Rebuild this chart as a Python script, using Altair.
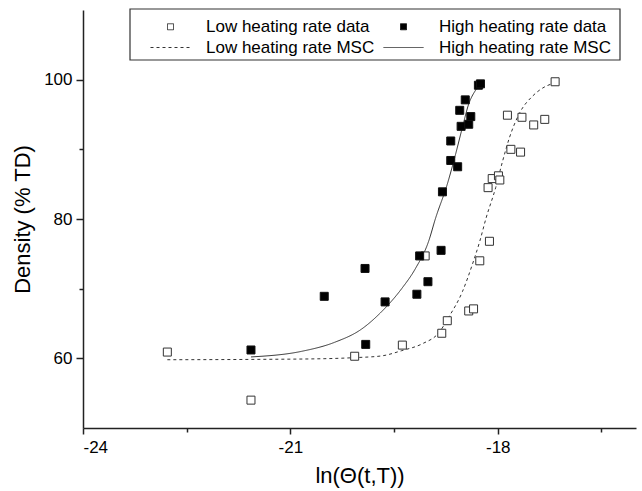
import altair as alt
import pandas as pd

series_names = ["Low heating rate data", "High heating rate data",
                "Low heating rate MSC", "High heating rate MSC"]

low_x = [-22.78, -21.57, -20.07, -19.38, -18.81, -18.73, -18.42, -18.35, -19.05, -18.26,
         -18.12, -18.14, -18.08, -17.99, -17.97, -17.81, -17.67, -17.86, -17.65, -17.48,
         -17.32, -17.17]
low_y = [60.9, 54.0, 60.3, 61.9, 63.6, 65.4, 66.8, 67.1, 74.7, 74.0,
         76.8, 84.5, 85.8, 86.2, 85.6, 90.0, 89.6, 94.9, 94.6, 93.5,
         94.3, 99.7]

high_x = [-21.57, -20.51, -19.92, -19.91, -19.63, -19.17, -19.01, -19.13, -18.82, -18.80,
          -18.68, -18.58, -18.68, -18.53, -18.42, -18.39, -18.55, -18.47, -18.28, -18.25]
high_y = [61.2, 68.9, 72.9, 62.0, 68.1, 69.2, 71.0, 74.7, 75.5, 83.9,
          88.4, 87.5, 91.2, 93.3, 93.6, 94.7, 95.6, 97.1, 99.2, 99.4]

low_msc_x = [-22.78, -21.5, -20.5, -20.07, -19.68, -19.39, -19.09, -18.85, -18.71, -18.51,
             -18.37, -18.26, -18.17, -18.03, -17.93, -17.83, -17.69, -17.49, -17.35, -17.19]
low_msc_y = [59.8, 59.85, 59.95, 60.1, 60.35, 61.1, 62.1, 63.7, 65.9, 69.6,
             73.4, 76.8, 80.1, 84.5, 88.3, 91.7, 95.1, 97.7, 98.8, 99.5]

high_msc_x = [-21.57, -20.84, -20.36, -19.97, -19.68, -19.39, -19.19, -19.0, -18.90, -18.73,
              -18.61, -18.51, -18.42, -18.32, -18.27]
high_msc_y = [60.2, 61.0, 62.3, 64.2, 66.7, 70.0, 72.9, 76.8, 80.1, 85.0,
              89.3, 93.2, 96.5, 98.5, 99.2]

x_ticks = [-24, -22.5, -21, -19.5, -18, -16.5]
y_ticks = [60, 70, 80, 90, 100]

pts = pd.DataFrame({
    "x": low_x + high_x,
    "y": low_y + high_y,
    "series": [series_names[0]] * len(low_x) + [series_names[1]] * len(high_x),
})
curves = pd.DataFrame({
    "x": low_msc_x + high_msc_x,
    "y": low_msc_y + high_msc_y,
    "series": [series_names[2]] * len(low_msc_x) + [series_names[3]] * len(high_msc_x),
})

FONT = "Liberation Sans"
sq = "M-0.6,-0.6H0.6V0.6H-0.6Z"
ln = "M-4,0H4"

shape_scale = alt.Scale(domain=series_names, range=[sq, sq, ln, ln])
fill_scale = alt.Scale(domain=series_names, range=["white", "black", "transparent", "transparent"])
stroke_scale = alt.Scale(domain=series_names, range=["#333", "#111", "#333", "#333"])
dash_scale = alt.Scale(domain=series_names, range=[[1, 0], [1, 0], [3, 3], [1, 0]])

legend = alt.Legend(
    title=None, orient="none", legendX=79, legendY=8, columns=2, direction="horizontal",
    symbolSize=100, symbolStrokeWidth=1,
    symbolOpacity=1, labelFont=FONT, labelFontSize=17, labelColor="black", labelLimit=400,
    padding=0, rowPadding=3, columnPadding=6, labelOffset=27,
)

x_enc = alt.X(
    "x:Q",
    scale=alt.Scale(domain=[-24, -16], nice=False, zero=False),
    axis=alt.Axis(
        values=x_ticks, title="ln(Θ(t,T))",
        labelExpr="datum.value % 3 == 0 ? '' + datum.value : ''",
        tickSize={"condition": {"test": "datum.value % 3 == 0", "value": 6}, "value": 4},
        labelPadding=5, titlePadding=10,
    ),
)
y_enc = alt.Y(
    "y:Q",
    scale=alt.Scale(domain=[50, 110], nice=False, zero=False),
    axis=alt.Axis(
        values=y_ticks, title="Density (% TD)",
        labelExpr="datum.value % 20 == 0 ? '' + datum.value : ''",
        tickSize={"condition": {"test": "datum.value % 20 == 0", "value": 7}, "value": 4},
        labelPadding=4, titlePadding=9,
    ),
)

# legend frame (decoration only)
frame = alt.Chart(pd.DataFrame({"k": [0]})).mark_rect(
    fill="white", stroke="#333", strokeWidth=1.2
).encode(x=alt.value(47), x2=alt.value(537), y=alt.value(-1), y2=alt.value(50))

lines = alt.Chart(curves).mark_line(strokeWidth=1, interpolate="monotone").encode(
    x=x_enc, y=y_enc,
    stroke=alt.Stroke("series:N", scale=stroke_scale, legend=legend),
    strokeDash=alt.StrokeDash("series:N", scale=dash_scale, legend=legend),
)

points = alt.Chart(pts).mark_point(strokeWidth=1, opacity=1, size=178).encode(
    x=x_enc, y=y_enc,
    shape=alt.Shape("series:N", scale=shape_scale, legend=legend),
    fill=alt.Fill("series:N", scale=fill_scale, legend=legend),
    stroke=alt.Stroke("series:N", scale=stroke_scale, legend=legend),
)

chart = alt.layer(frame, lines, points).properties(
    width=553, height=418,
    padding={"left": 83, "top": 10, "right": 6, "bottom": 63},
    autosize=alt.AutoSizeParams(type="none"),
    background="white",
).configure_view(strokeWidth=0).configure_axis(
    grid=False, domainColor="#222", domainWidth=1.5, tickColor="#222", tickWidth=1.5,
    labelFont=FONT, labelFontSize=17, labelColor="black",
    titleFont=FONT, titleFontSize=22, titleFontWeight="normal", titleColor="black",
)

chart.save("out.html", embed_options={"renderer": "svg", "actions": False})
